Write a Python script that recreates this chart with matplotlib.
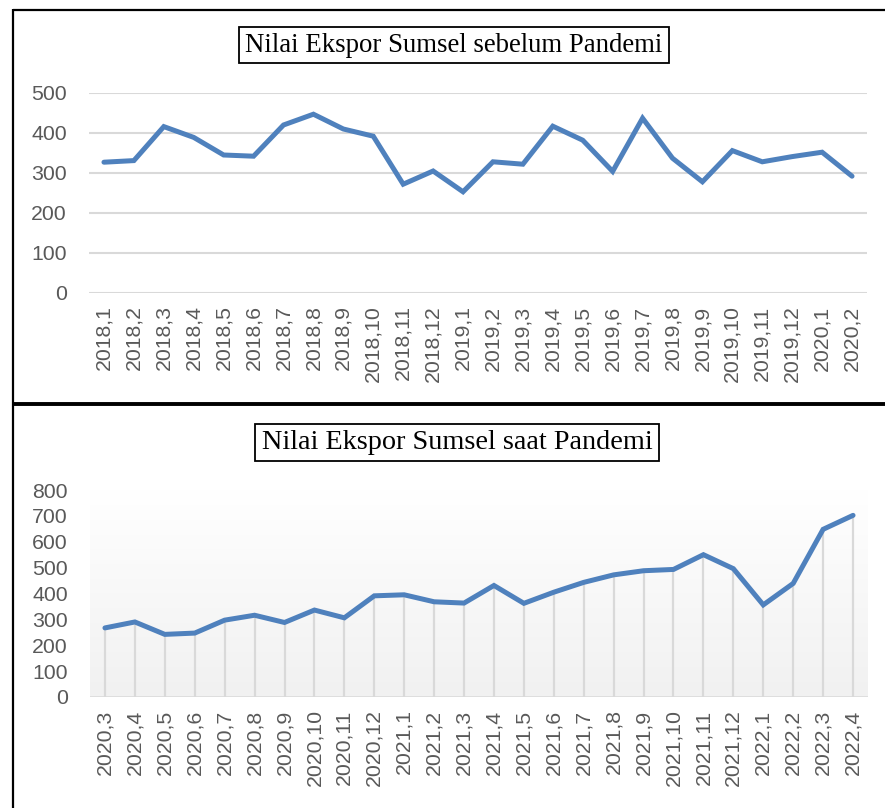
import matplotlib
matplotlib.use("Agg")
import matplotlib.pyplot as plt
from matplotlib.lines import Line2D
import numpy as np

# ---- data ----
top_labels = ["2018,1", "2018,2", "2018,3", "2018,4", "2018,5", "2018,6", "2018,7",
              "2018,8", "2018,9", "2018,10", "2018,11", "2018,12",
              "2019,1", "2019,2", "2019,3", "2019,4", "2019,5", "2019,6", "2019,7",
              "2019,8", "2019,9", "2019,10", "2019,11", "2019,12", "2020,1", "2020,2"]
top_values = [327, 331, 416, 389, 345, 342, 420, 447, 410, 392, 272, 305,
              253, 328, 322, 417, 382, 304, 437, 337, 278, 356, 328, 341, 352, 292]
top_title = "Nilai Ekspor Sumsel sebelum Pandemi"
top_yticks = [0, 100, 200, 300, 400, 500]

bot_labels = ["2020,3", "2020,4", "2020,5", "2020,6", "2020,7", "2020,8", "2020,9",
              "2020,10", "2020,11", "2020,12",
              "2021,1", "2021,2", "2021,3", "2021,4", "2021,5", "2021,6", "2021,7",
              "2021,8", "2021,9", "2021,10", "2021,11", "2021,12",
              "2022,1", "2022,2", "2022,3", "2022,4"]
bot_values = [267, 290, 242, 247, 297, 316, 288, 336, 306, 391, 395, 368, 363,
              431, 362, 405, 443, 472, 488, 493, 550, 496, 356, 439, 648, 702]
bot_title = "Nilai Ekspor Sumsel saat Pandemi"
bot_yticks = [0, 100, 200, 300, 400, 500, 600, 700, 800]

# ---- style ----
W, H = 885, 808
LINE_C = "#4f81bd"
GRID_C = "#d9d9d9"
TICK_C = "#595959"
TICK_FONT = "Liberation Sans"
TICK_FS = 15.3
TITLE_FONT = "Liberation Serif"

fig = plt.figure(figsize=(W / 100, H / 100), dpi=100)


def px_rect(x0, y0, x1, y1):
    return [x0 / W, 1 - y1 / H, (x1 - x0) / W, (y1 - y0) / H]


def style_ticks(ax, labels, yticks):
    x = np.arange(len(labels))
    ax.set_xticks(x)
    ax.set_xticklabels(labels, rotation=90, fontfamily=TICK_FONT,
                       fontsize=TICK_FS, color=TICK_C)
    ax.set_yticks(yticks)
    ax.set_yticklabels([str(v) for v in yticks], fontfamily=TICK_FONT,
                       fontsize=TICK_FS, color=TICK_C)
    ax.tick_params(axis="x", length=0, pad=9)
    ax.tick_params(axis="y", length=0, pad=16)
    for s in ax.spines.values():
        s.set_visible(False)
    ax.set_xlim(-0.5, len(labels) - 0.5)


# ---- top chart ----
ax1 = fig.add_axes(px_rect(89, 93, 867, 293))
x1 = np.arange(len(top_labels))
ax1.set_ylim(0, 500)
for v in top_yticks:
    ax1.axhline(v, color=GRID_C, lw=1.5, zorder=1)
ax1.plot(x1, top_values, color=LINE_C, lw=3.6, solid_capstyle="round",
         solid_joinstyle="miter", zorder=3)
style_ticks(ax1, top_labels, top_yticks)

# ---- bottom chart ----
ax2 = fig.add_axes(px_rect(90, 490, 868, 697))
x2 = np.arange(len(bot_labels))
ax2.set_ylim(0, 800)
grad = np.linspace(0, 1, 256).reshape(-1, 1)
top_c = np.array([1.0, 1.0, 1.0])
bot_c = np.array([0.945, 0.945, 0.945])
img = top_c[None, None, :] * (1 - grad[:, :, None]) + bot_c[None, None, :] * grad[:, :, None]
ax2.imshow(img, extent=[0, 1, 0, 1], transform=ax2.transAxes, aspect="auto",
           zorder=0, origin="upper")
ax2.vlines(x2, 0, bot_values, color=GRID_C, lw=1.6, zorder=1)
ax2.axhline(0, color=GRID_C, lw=1.8, zorder=1)
ax2.plot(x2, bot_values, color=LINE_C, lw=3.6, solid_capstyle="round",
         solid_joinstyle="miter", zorder=3)
style_ticks(ax2, bot_labels, bot_yticks)

# ---- titles ----
for (cx, cy, t, fs) in [(454, 45, top_title, 19.3), (457, 442.5, bot_title, 20.3)]:
    fig.text(cx / W, 1 - cy / H, t, ha="center", va="center",
             fontfamily=TITLE_FONT, fontsize=fs, color="black",
             bbox=dict(boxstyle="square,pad=0.22", facecolor="white",
                       edgecolor="black", linewidth=1.3))

# ---- panel borders ----
def fig_line(x0, y0, x1, y1, lw):
    fig.add_artist(Line2D([x0 / W, x1 / W], [1 - y0 / H, 1 - y1 / H],
                          transform=fig.transFigure, color="black", lw=lw,
                          solid_capstyle="butt"))

fig_line(13, 9.5, 885, 9.5, 1.6)
fig_line(13, 8.5, 13, 808, 1.6)
fig_line(13, 404.5, 885, 404.5, 2.8)

fig.savefig("out.png", dpi=100)
